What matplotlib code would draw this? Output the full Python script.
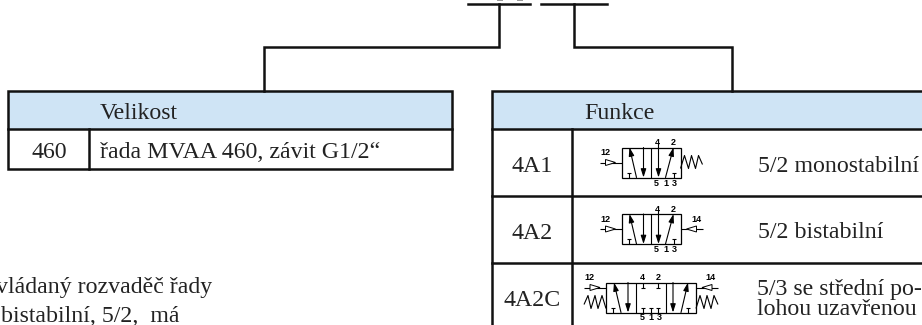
import matplotlib
matplotlib.use("Agg")
import matplotlib.pyplot as plt
from matplotlib.patches import Rectangle, Polygon

plt.rcParams['font.family'] = ['Liberation Serif', 'DejaVu Serif']

HEADER_BLUE = "#cfe4f5"
DARK = "#111111"

size_title = "Velikost"
size_code = "460"
size_text = "řada MVAA 460, závit G1/2“"
func_title = "Funkce"
func_codes = ["4A1", "4A2", "4A2C"]
func_texts = ["5/2 monostabilní", "5/2 bistabilní"]
func_text_two = ["5/3 se střední po-", "lohou uzavřenou"]
note_lines = ["vládaný rozvaděč řady", "bistabilní, 5/2,  má"]

fig = plt.figure(figsize=(9.22, 3.25), dpi=100)
ax = fig.add_axes([0, 0, 1, 1])
ax.set_xlim(0, 922)
ax.set_ylim(325, 0)
ax.axis("off")

LW = 1.8


def line(xs, ys, lw=LW):
    ax.plot(xs, ys, color=DARK, lw=lw, solid_capstyle="projecting", solid_joinstyle="miter")


def label(x, y, s, size=17.2, ha="left", **kw):
    ax.text(x, y, s, fontsize=size, ha=ha, va="baseline", color="#222222", **kw)


def table(x0, x1):
    ax.add_patch(Rectangle((x0, 91), x1 - x0, 38, fc=HEADER_BLUE, ec="none"))


# connectors from the order code at the top
line([468, 530], [4, 4])
line([541, 607], [4, 4])
line([499, 499, 264, 264], [4, 47, 47, 91])
line([574, 574, 732, 732], [4, 47, 47, 91])
# bottoms of the cropped characters above the lines
for x in [497, 517]:
    ax.add_patch(Rectangle((x, 0), 6, 1.2, fc="#999999", ec="none"))

# left table
table(8, 452)
ax.add_patch(Rectangle((8, 91), 444, 78, fc="none", ec=DARK, lw=LW, joinstyle="miter"))
line([8, 452], [129, 129])
line([89, 89], [129, 169])
label(100, 119, size_title)
label(49, 158, size_code, ha="center")
label(100, 158, size_text)

# right table, runs off the right edge
table(492, 930)
line([930, 492, 492], [91, 91, 330])
line([492, 930], [129, 129])
line([492, 930], [196, 196])
line([492, 930], [263, 263])
line([572, 572], [129, 330])
label(584, 119, func_title)
for code, base in zip(func_codes, [172, 239, 306.5]):
    label(532, base, code, ha="center")
label(758, 172, func_texts[0])
label(758, 238, func_texts[1])
label(757, 295, func_text_two[0])
label(757, 315, func_text_two[1])

# text at the lower left
label(212, 293, note_lines[0], ha="right")
label(1, 322, note_lines[1])


def thin(xs, ys, lw=0.8):
    ax.plot(xs, ys, color="black", lw=lw, solid_capstyle="butt")


def arrow(x0, y0, x1, y1):
    ax.annotate("", xy=(x1, y1), xytext=(x0, y0),
                arrowprops=dict(arrowstyle="-|>,head_width=0.16,head_length=0.5",
                                color="black", lw=0.8, shrinkA=0, shrinkB=0))


def tee_up(x, y):
    thin([x, x], [y, y - 5])
    thin([x - 2, x + 2], [y - 5, y - 5])


def tiny(x, y, s):
    ax.text(x, y, s, fontsize=6.5, fontweight="bold", family="Liberation Sans",
            ha="center", va="center", color="black")


def pilot(x_end, y, side):
    # side -1 left of box, +1 right of box
    thin([x_end, x_end + side * 22], [y, y])
    tip_out = x_end + side * 6
    tip_in = x_end + side * 16
    ax.add_patch(Polygon([(tip_in, y - 3), (tip_in, y + 3), (tip_out, y)],
                         fc="white", ec="black", lw=0.7, zorder=3))


def spring(x_end, y, side):
    offs = [0, 4, 8, 11, 15, 18, 22]
    ys = [y + 6, y - 7, y + 6, y - 7, y + 6, y - 7, y + 2]
    thin([x_end + side * o for o in offs], ys)


def two_way_cell(x0, y0):
    # one switching cell, 29.5 px wide and 30 high
    arrow(x0 + 15, y0 + 30, x0 + 8, y0)
    arrow(x0 + 22, y0, x0 + 22, y0 + 30)
    tee_up(x0 + 7, y0 + 30)


def valve_52(y0, right_pilot):
    x0 = 621.5
    ax.add_patch(Rectangle((x0, y0), 59, 30, fc="white", ec="black", lw=0.9))
    thin([x0 + 29.5, x0 + 29.5], [y0, y0 + 30])
    two_way_cell(x0, y0)
    arrow(x0 + 37, y0 - 4, x0 + 37, y0 + 30)
    arrow(x0 + 44, y0 + 30, x0 + 52, y0)
    tee_up(x0 + 52, y0 + 30)
    pilot(x0, y0 + 15, -1)
    tiny(605, y0 + 5, "12")
    tiny(x0 + 36, y0 - 5, "4")
    tiny(x0 + 52, y0 - 5, "2")
    for x, s in zip([x0 + 35, x0 + 44, x0 + 53], ["5", "1", "3"]):
        tiny(x, y0 + 35.5, s)
    if right_pilot:
        pilot(x0 + 59, y0 + 15, 1)
        tiny(696, y0 + 5, "14")
    else:
        spring(x0 + 59, y0 + 15, 1)


valve_52(147.5, False)
valve_52(214, True)

# three position valve
x0, y0 = 606, 282.5
ax.add_patch(Rectangle((x0, y0), 90, 30, fc="white", ec="black", lw=0.9))
thin([x0 + 30, x0 + 30], [y0, y0 + 30])
thin([x0 + 60, x0 + 60], [y0, y0 + 30])
two_way_cell(x0, y0)
arrow(x0 + 67, y0, x0 + 67, y0 + 30)
arrow(x0 + 75, y0 + 30, x0 + 82, y0)
tee_up(x0 + 82, y0 + 30)
for x in [x0 + 37, x0 + 52]:
    thin([x, x], [y0, y0 + 5])
    thin([x - 2, x + 2], [y0 + 5, y0 + 5])
for x in [x0 + 37, x0 + 45, x0 + 52]:
    tee_up(x, y0 + 30)
pilot(x0, y0 + 5, -1)
pilot(x0 + 90, y0 + 5, 1)
spring(x0, y0 + 20, -1)
spring(x0 + 90, y0 + 20, 1)
tiny(589, 277.5, "12")
tiny(710, 277.5, "14")
tiny(642.5, 277.5, "4")
tiny(658, 277.5, "2")
for x, s in zip([642, 650.5, 659], ["5", "1", "3"]):
    tiny(x, 317.5, s)

fig.savefig("out.png", dpi=100)
